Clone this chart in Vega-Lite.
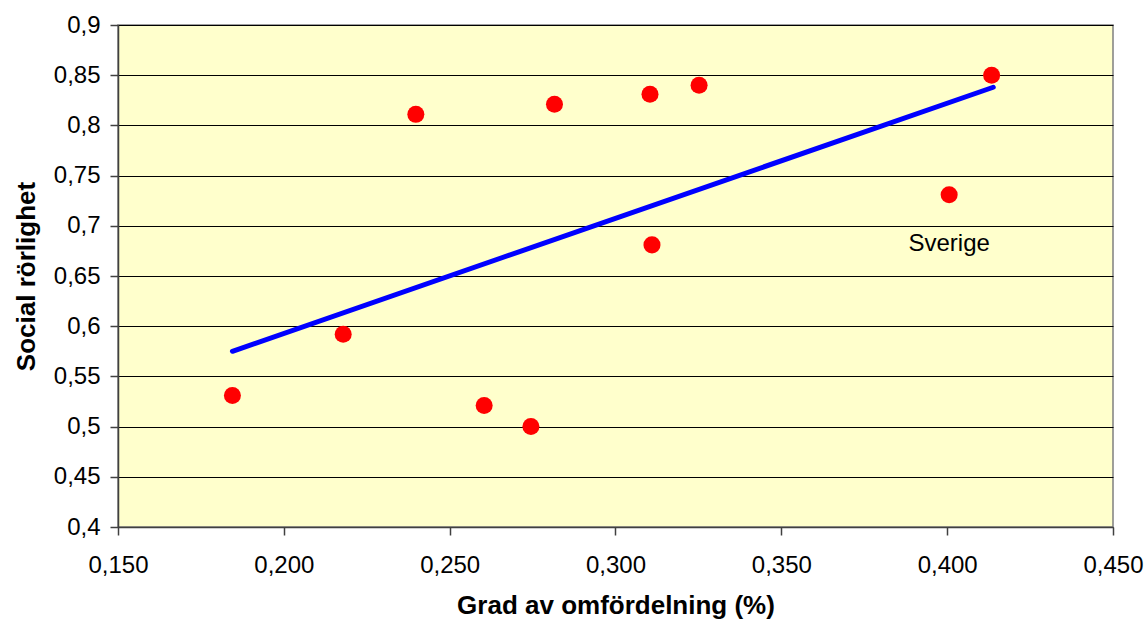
{
  "$schema": "https://vega.github.io/schema/vega-lite/v6.json",
  "width": 995,
  "height": 502,
  "autosize": {"type": "none"},
  "padding": {"left": 118, "top": 25, "right": 33, "bottom": 95},
  "background": "#ffffff",
  "config": {
    "locale": {"number": {"decimal": ",", "thousands": " ", "grouping": [3], "currency": ["", " kr"]}},
    "view": {"fill": "#FFFFCC", "stroke": "#808080", "strokeWidth": 1.5},
    "font": "Liberation Sans"
  },
  "datasets": {
    "points": [
      {"x": 0.1845, "y": 0.531},
      {"x": 0.2179, "y": 0.592},
      {"x": 0.2398, "y": 0.811},
      {"x": 0.2604, "y": 0.521},
      {"x": 0.2745, "y": 0.500},
      {"x": 0.2816, "y": 0.821},
      {"x": 0.3104, "y": 0.831},
      {"x": 0.3110, "y": 0.681},
      {"x": 0.3252, "y": 0.840},
      {"x": 0.4006, "y": 0.731},
      {"x": 0.4134, "y": 0.850}
    ],
    "trend": [
      {"x": 0.1845, "y": 0.575},
      {"x": 0.4139, "y": 0.838}
    ],
    "labels": [
      {"x": 0.4006, "y": 0.682, "label": "Sverige"}
    ]
  },
  "layer": [
    {
      "data": {"name": "trend"},
      "mark": {"type": "line", "color": "#0000FF", "strokeWidth": 5, "strokeCap": "round"},
      "encoding": {
        "x": {
          "field": "x", "type": "quantitative",
          "scale": {"domain": [0.15, 0.45], "nice": false, "zero": false},
          "axis": {
            "title": "Grad av omfördelning (%)",
            "values": [0.15, 0.2, 0.25, 0.3, 0.35, 0.4, 0.45],
            "format": ".3f",
            "grid": false,
            "domainColor": "#404040", "domainWidth": 1.5,
            "tickColor": "#404040", "tickSize": 8, "tickWidth": 1.5,
            "labelFont": "Liberation Sans", "labelFontSize": 24, "labelColor": "#000000",
            "labelPadding": 18, "labelFlush": false, "labelOverlap": false,
            "titleFont": "Liberation Sans", "titleFontSize": 26, "titleFontWeight": "bold",
            "titleColor": "#000000", "titlePadding": 15
          }
        },
        "y": {
          "field": "y", "type": "quantitative",
          "scale": {"domain": [0.4, 0.9], "nice": false, "zero": false},
          "axis": {
            "title": "Social rörlighet",
            "values": [0.4, 0.45, 0.5, 0.55, 0.6, 0.65, 0.7, 0.75, 0.8, 0.85, 0.9],
            "format": ".2~f",
            "grid": true, "gridColor": "#000000", "gridWidth": 1, "gridOpacity": 1,
            "domainColor": "#404040", "domainWidth": 1.5,
            "tickColor": "#404040", "tickSize": 8, "tickWidth": 1.5,
            "labelFont": "Liberation Sans", "labelFontSize": 24, "labelColor": "#000000",
            "labelPadding": 10, "labelFlush": false, "labelOverlap": false,
            "titleFont": "Liberation Sans", "titleFontSize": 26, "titleFontWeight": "bold",
            "titleColor": "#000000", "titlePadding": 14
          }
        }
      }
    },
    {
      "data": {"name": "points"},
      "mark": {"type": "circle", "color": "#FF0000", "opacity": 1, "size": 290},
      "encoding": {
        "x": {"field": "x", "type": "quantitative"},
        "y": {"field": "y", "type": "quantitative"}
      }
    },
    {
      "data": {"name": "labels"},
      "mark": {"type": "text", "font": "Liberation Sans", "fontSize": 24, "color": "#000000", "align": "center", "baseline": "middle"},
      "encoding": {
        "x": {"field": "x", "type": "quantitative"},
        "y": {"field": "y", "type": "quantitative"},
        "text": {"field": "label"}
      }
    }
  ]
}
